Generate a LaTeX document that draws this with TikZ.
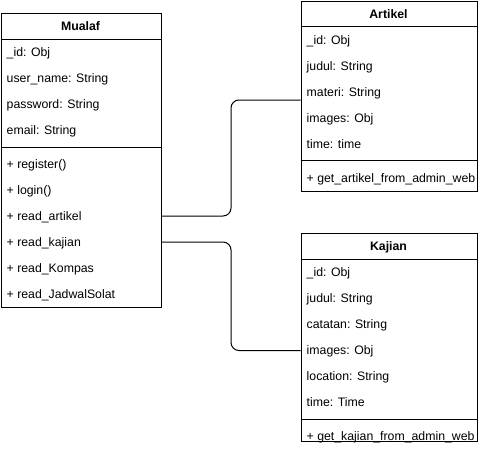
\documentclass[tikz,border=0pt]{standalone}
\usepackage{fontspec}
\setmainfont{Liberation Sans}
\begin{document}
\begin{tikzpicture}[x=1pt,y=-1pt,
  box/.style={draw, line width=1pt, inner sep=0pt, anchor=north west},
  sep/.style={line width=1pt},
  row/.style={anchor=west, inner sep=0pt, text height=10pt, text depth=1pt, font=\fontsize{12.3}{14}\selectfont},
  ttl/.style={inner sep=0pt, text height=10pt, text depth=1pt, font=\bfseries\fontsize{12.3}{14}\selectfont},
  conn/.style={line width=1pt, rounded corners=8pt}]
\useasboundingbox (0,0) rectangle (481,453);
% Mualaf
\node[box, minimum width=160pt, minimum height=294pt] (mualaf) at (0.5,13) {};
\draw[sep] (mualaf.west |- 0,39) -- (mualaf.east |- 0,39);
\draw[sep] (mualaf.west |- 0,147) -- (mualaf.east |- 0,147);
\node[ttl] (tmualaf) at (80.5,26) {Mualaf};
\node[row] (m1) at (6.5,52) {\_id: Obj};
\node[row] (m2) at (6.5,78) {user\_name: String};
\node[row] (m3) at (6.5,104) {password: String};
\node[row] (m4) at (6.5,130) {email: String};
\node[row] (m5) at (6.5,164) {+ register()};
\node[row] (m6) at (6.5,190) {+ login()};
\node[row] (m7) at (6.5,216) {+ read\_artikel};
\node[row] (m8) at (6.5,242) {+ read\_kajian};
\node[row] (m9) at (6.5,268) {+ read\_Kompas};
\node[row] (m10) at (6.5,294) {+ read\_JadwalSolat};
% Artikel
\node[box, minimum width=176pt, minimum height=190pt] (artikel) at (300.5,1) {};
\draw[sep] (artikel.west |- 0,26) -- (artikel.east |- 0,26);
\draw[sep] (artikel.west |- 0,160) -- (artikel.east |- 0,160);
\node[ttl] (tartikel) at (388.5,14) {Artikel};
\node[row] (a1) at (306.5,40) {\_id: Obj};
\node[row] (a2) at (306.5,66) {judul: String};
\node[row] (a3) at (306.5,92) {materi: String};
\node[row] (a4) at (306.5,118) {images: Obj};
\node[row] (a5) at (306.5,144) {time: time};
\node[row] (a6) at (306.5,178) {+ get\_artikel\_from\_admin\_web};
% Kajian
\node[box, minimum width=176pt, minimum height=208pt] (kajian) at (300.5,233) {};
\draw[sep] (kajian.west |- 0,259) -- (kajian.east |- 0,259);
\draw[sep] (kajian.west |- 0,419) -- (kajian.east |- 0,419);
\node[ttl] (tkajian) at (388.5,246) {Kajian};
\node[row] (k1) at (306.5,272) {\_id: Obj};
\node[row] (k2) at (306.5,298) {judul: String};
\node[row] (k3) at (306.5,324) {catatan: String};
\node[row] (k4) at (306.5,350) {images: Obj};
\node[row] (k5) at (306.5,376) {location: String};
\node[row] (k6) at (306.5,402) {time: Time};
\node[row] (k7) at (306.5,436) {+ get\_kajian\_from\_admin\_web};
% connectors
\coordinate (artin) at (300.5,100);
\coordinate (kajin) at (300.5,350.5);
\draw[conn] (mualaf.east |- m7.west) -- (231,216) |- (artin);
\draw[conn] (mualaf.east |- m8.west) -- (231,242) |- (kajin);
\end{tikzpicture}
\end{document}
